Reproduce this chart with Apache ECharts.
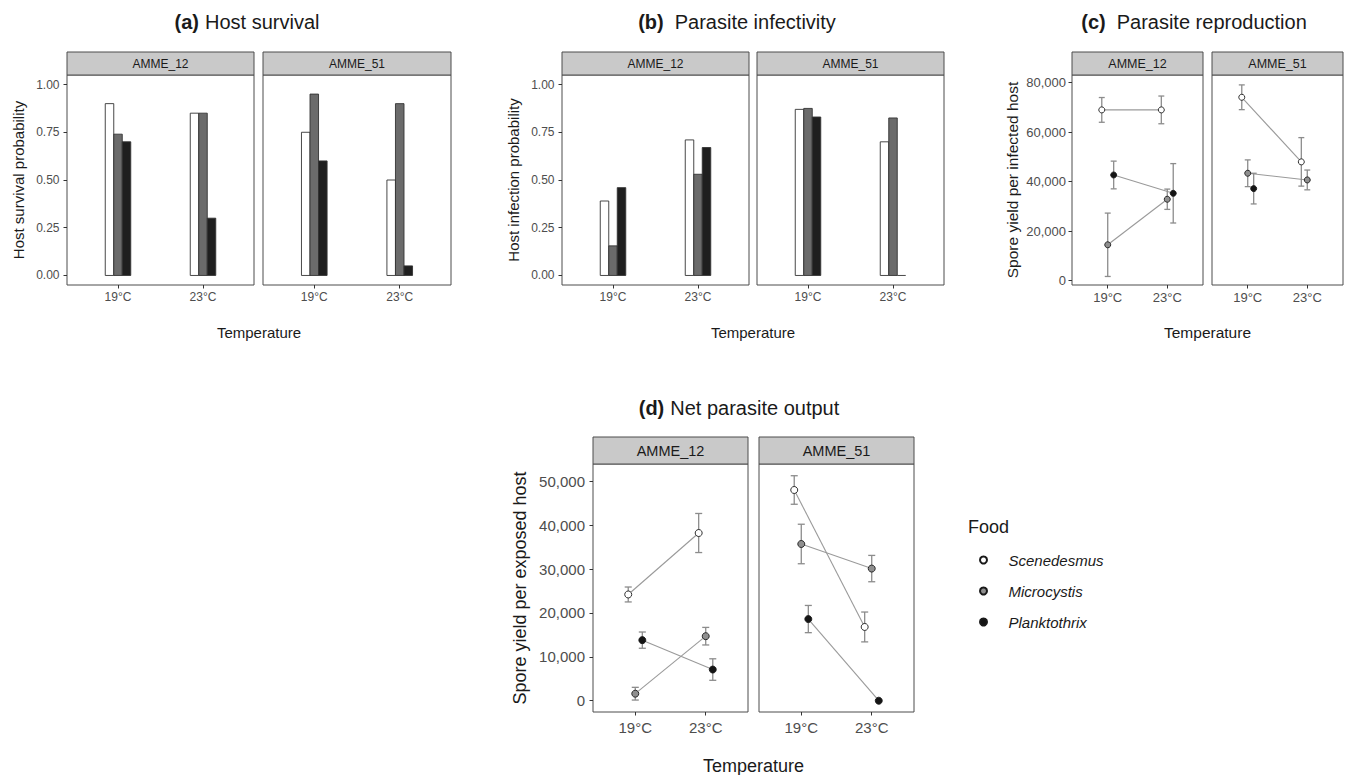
<!DOCTYPE html>
<html>
<head>
<meta charset="utf-8">
<script src="https://cdn.jsdelivr.net/npm/echarts@6/dist/echarts.min.js"></script>
<style>
  html, body { margin: 0; padding: 0; background: #ffffff; }
  #chart { width: 1346px; height: 775px; }
</style>
</head>
<body>
<div id="chart"></div>
<script>
// ---- data -------------------------------------------------------------
const clones = ['AMME_12', 'AMME_51'];
const temperatures = ['19°C', '23°C'];
const foods = ['Scenedesmus', 'Microcystis', 'Planktothrix'];

const probabilityTicks = [0, 0.25, 0.5, 0.75, 1];
const yieldInfectedTicks = [0, 20000, 40000, 60000, 80000];
const yieldExposedTicks = [0, 10000, 20000, 30000, 40000, 50000];

// rows: food (Scenedesmus, Microcystis, Planktothrix); columns: 19°C, 23°C
const survivalAMME12 = [[0.90, 0.85], [0.74, 0.85], [0.70, 0.30]];
const survivalAMME51 = [[0.75, 0.50], [0.95, 0.90], [0.60, 0.05]];

const infectionAMME12 = [[0.39, 0.71], [0.155, 0.53], [0.46, 0.67]];
const infectionAMME51 = [[0.87, 0.70], [0.875, 0.825], [0.83, 0]];

const yieldInfectedAMME12 = [[69000, 69000], [14500, 32900], [42700, 35300]];
const yieldInfectedSeAMME12 = [[5000, 5600], [12800, 4100], [5600, 12000]];
const yieldInfectedAMME51 = [[74100, 48000], [43400, 40700], [37200, null]];
const yieldInfectedSeAMME51 = [[5000, 9800], [5400, 4000], [6200, null]];

const yieldExposedAMME12 = [[24200, 38200], [1600, 14700], [13800, 7100]];
const yieldExposedSeAMME12 = [[1700, 4450], [1450, 2000], [1850, 2450]];
const yieldExposedAMME51 = [[48000, 16800], [35700, 30100], [18600, 0]];
const yieldExposedSeAMME51 = [[3250, 3400], [4500, 3000], [3100, 0]];

// ---- styling ----------------------------------------------------------
const FONT = '"Liberation Sans", Arial, Helvetica, sans-serif';
const INK = '#1a1a1a';
const TICK_TEXT = '#4d4d4d';
const FRAME = '#4d4d4d';
const barFill = ['#ffffff', '#6b6b6b', '#1f1f1f'];
const pointFill = ['#ffffff', '#8f8f8f', '#151515'];
const dodge = [-0.1, 0, 0.1];     // position_dodge offsets, in category units
const BAR_HALF = 0.05;            // half bar width, category units
const CAP_HALF = 0.05;            // half error-bar cap width, category units

const fmtProb = v => v.toFixed(2);
const fmtCount = v => Math.round(v).toLocaleString('en-US');

const panels = [
  { tag: '(a)', name: 'Host survival', tagGap: 6, kind: 'bar',
    values: [survivalAMME12, survivalAMME51],
    yTitle: 'Host survival probability', ticks: probabilityTicks, fmt: fmtProb, yRange: [-0.05, 1.05],
    lefts: [67, 263], widths: [187, 188], top: 75, height: 210, strip: 23,
    titleX: 247, titleY: 22, yTitleX: 18, xTitleY: 332,
    tickFont: 12, stripFont: 12, axisTitleFont: 15, marginX: 6, marginY: 7.5 },
  { tag: '(b)', name: 'Parasite infectivity', tagGap: 11, kind: 'bar',
    values: [infectionAMME12, infectionAMME51],
    yTitle: 'Host infection probability', ticks: probabilityTicks, fmt: fmtProb, yRange: [-0.05, 1.05],
    lefts: [562, 757], widths: [187, 187], top: 75, height: 210, strip: 23,
    titleX: 737, titleY: 22, yTitleX: 513, xTitleY: 332,
    tickFont: 12, stripFont: 12, axisTitleFont: 15, marginX: 6, marginY: 7.5 },
  { tag: '(c)', name: 'Parasite reproduction', tagGap: 11, kind: 'point',
    values: [yieldInfectedAMME12, yieldInfectedAMME51],
    errors: [yieldInfectedSeAMME12, yieldInfectedSeAMME51],
    yTitle: 'Spore yield per infected host', ticks: yieldInfectedTicks, fmt: fmtCount, yRange: [-1750, 83100],
    lefts: [1072, 1212], widths: [131, 131], top: 75, height: 210, strip: 23,
    titleX: 1194, titleY: 22, yTitleX: 1012, xTitleY: 332,
    tickFont: 13, stripFont: 12.5, axisTitleFont: 15.5, marginX: 6, marginY: 6, pointSize: 6 },
  { tag: '(d)', name: 'Net parasite output', tagGap: 6, kind: 'point',
    values: [yieldExposedAMME12, yieldExposedAMME51],
    errors: [yieldExposedSeAMME12, yieldExposedSeAMME51],
    yTitle: 'Spore yield per exposed host', ticks: yieldExposedTicks, fmt: fmtCount, yRange: [-2570, 53920],
    lefts: [593, 759], widths: [155, 155], top: 464, height: 248, strip: 27,
    titleX: 739, titleY: 408, yTitleX: 520, xTitleY: 766,
    tickFont: 15, stripFont: 14.5, axisTitleFont: 18, marginX: 7.5, marginY: 8, pointSize: 7 }
];

// ---- renderers --------------------------------------------------------
function barRenderer(fill) {
  return function (params, api) {
    const x = api.value(0), y = api.value(1);
    const a = api.coord([x - BAR_HALF, y]);
    const b = api.coord([x + BAR_HALF, 0]);
    if (Math.abs(b[1] - a[1]) < 0.5) {
      return { type: 'line', shape: { x1: a[0], y1: b[1], x2: b[0], y2: b[1] },
               style: { stroke: '#333333', lineWidth: 0.9 } };
    }
    return { type: 'rect',
             shape: { x: a[0], y: a[1], width: b[0] - a[0], height: b[1] - a[1] },
             style: { fill: fill, stroke: '#333333', lineWidth: 0.9 } };
  };
}

function errorBarRenderer(params, api) {
  const x = api.value(0), m = api.value(1), se = api.value(2);
  const top = api.coord([x, m + se]);
  const bot = api.coord([x, m - se]);
  const l = api.coord([x - CAP_HALF, m])[0];
  const r = api.coord([x + CAP_HALF, m])[0];
  const st = { stroke: '#8c8c8c', lineWidth: 1.3 };
  return { type: 'group', children: [
    { type: 'line', shape: { x1: top[0], y1: top[1], x2: bot[0], y2: bot[1] }, style: st },
    { type: 'line', shape: { x1: l, y1: top[1], x2: r, y2: top[1] }, style: st },
    { type: 'line', shape: { x1: l, y1: bot[1], x2: r, y2: bot[1] }, style: st }
  ] };
}

// ---- assemble ---------------------------------------------------------
const grids = [], xAxes = [], yAxes = [], series = [], graphics = [];
const categoryPositions = temperatures.map((t, k) => k + 1);

panels.forEach(p => {
  graphics.push({
    type: 'text', x: p.titleX, y: p.titleY, silent: true,
    style: {
      text: '{t|' + p.tag + '}{n|' + p.name + '}',
      align: 'center', verticalAlign: 'middle', fill: INK,
      fontFamily: FONT, fontSize: 20,
      rich: {
        t: { fontFamily: FONT, fontSize: 20, fontWeight: 'bold', fill: INK, padding: [0, p.tagGap, 0, 0] },
        n: { fontFamily: FONT, fontSize: 20, fill: INK }
      }
    }
  });
  const left = p.lefts[0], right = p.lefts[1] + p.widths[1];
  graphics.push({
    type: 'text', x: (left + right) / 2, y: p.xTitleY, silent: true,
    style: { text: 'Temperature', align: 'center', verticalAlign: 'middle', fill: INK,
             fontFamily: FONT, fontSize: p.axisTitleFont }
  });
  graphics.push({
    type: 'text', x: p.yTitleX, y: p.top + p.height / 2, rotation: Math.PI / 2, silent: true,
    style: { text: p.yTitle, align: 'center', verticalAlign: 'middle', fill: INK,
             fontFamily: FONT, fontSize: p.axisTitleFont }
  });

  clones.forEach((clone, c) => {
    const gi = grids.length;
    grids.push({ left: p.lefts[c], top: p.top, width: p.widths[c], height: p.height,
                 show: true, borderColor: FRAME, borderWidth: 1, backgroundColor: 'transparent',
                 containLabel: false, outerBoundsMode: 'none' });
    xAxes.push({
      gridIndex: gi, type: 'value', min: 0.4, max: 2.6, position: 'bottom',
      axisLine: { show: false, onZero: false }, splitLine: { show: false },
      axisTick: { show: true, customValues: categoryPositions, length: 3.5,
                  lineStyle: { color: '#333333', width: 1 } },
      axisLabel: { show: true, customValues: categoryPositions, margin: p.marginX,
                   formatter: v => temperatures[Math.round(v) - 1] || '',
                   color: TICK_TEXT, fontFamily: FONT, fontSize: p.tickFont }
    });
    yAxes.push({
      gridIndex: gi, type: 'value', min: p.yRange[0], max: p.yRange[1], position: 'left',
      axisLine: { show: false, onZero: false }, splitLine: { show: false },
      axisTick: { show: c === 0, customValues: p.ticks, length: 3.5,
                  lineStyle: { color: '#333333', width: 1 } },
      axisLabel: { show: c === 0, customValues: p.ticks, margin: p.marginY,
                   formatter: p.fmt, color: TICK_TEXT, fontFamily: FONT, fontSize: p.tickFont }
    });
    // facet strip
    graphics.push({
      type: 'rect', silent: true,
      shape: { x: p.lefts[c], y: p.top - p.strip, width: p.widths[c], height: p.strip },
      style: { fill: '#c9c9c9', stroke: FRAME, lineWidth: 1 }
    });
    graphics.push({
      type: 'text', silent: true,
      x: p.lefts[c] + p.widths[c] / 2, y: p.top - p.strip / 2,
      style: { text: clone, align: 'center', verticalAlign: 'middle', fill: INK,
               fontFamily: FONT, fontSize: p.stripFont }
    });

    foods.forEach((food, f) => {
      const rows = temperatures
        .map((t, k) => [k + 1 + dodge[f], p.values[c][f][k], p.errors ? p.errors[c][f][k] : 0])
        .filter(d => d[1] !== null && d[1] !== undefined);
      if (p.kind === 'bar') {
        series.push({
          type: 'custom', name: food + ' bars', xAxisIndex: gi, yAxisIndex: gi, z: 2,
          data: rows, encode: { x: 0, y: 1 }, renderItem: barRenderer(barFill[f]), silent: true
        });
      } else {
        if (rows.length > 1) {
          series.push({
            type: 'line', name: food + ' trend', xAxisIndex: gi, yAxisIndex: gi, z: 2,
            data: rows.map(d => [d[0], d[1]]), symbol: 'none', silent: true,
            lineStyle: { color: '#9a9a9a', width: 1.1 }
          });
        }
        const withError = rows.filter(d => d[2] > 0);
        if (withError.length) {
          series.push({
            type: 'custom', name: food + ' error', xAxisIndex: gi, yAxisIndex: gi, z: 3,
            data: withError, encode: { x: 0, y: 1 }, renderItem: errorBarRenderer, silent: true
          });
        }
        series.push({
          type: 'scatter', name: food, xAxisIndex: gi, yAxisIndex: gi, z: 4,
          data: rows.map(d => [d[0], d[1]]), symbol: 'circle', symbolSize: p.pointSize,
          itemStyle: { color: pointFill[f], borderColor: '#1a1a1a', borderWidth: 0.9, opacity: 1 },
          silent: true
        });
      }
    });
  });
});

graphics.push({
  type: 'text', x: 968, y: 527, silent: true,
  style: { text: 'Food', align: 'left', verticalAlign: 'middle', fill: INK, fontFamily: FONT, fontSize: 18 }
});

const chart = echarts.init(document.getElementById('chart'), null, { renderer: 'svg' });
chart.setOption({
  backgroundColor: '#ffffff',
  animation: false,
  grid: grids,
  xAxis: xAxes,
  yAxis: yAxes,
  series: series,
  legend: {
    data: foods.map(n => ({ name: n, icon: 'circle' })),
    orient: 'vertical', left: 979, top: 552, padding: 0,
    itemWidth: 40, itemHeight: 7, itemGap: 15, selectedMode: false,
    textStyle: { fontFamily: FONT, fontSize: 15, fontStyle: 'italic', color: INK, lineHeight: 16 }
  },
  graphic: { elements: graphics }
});
</script>
</body>
</html>
